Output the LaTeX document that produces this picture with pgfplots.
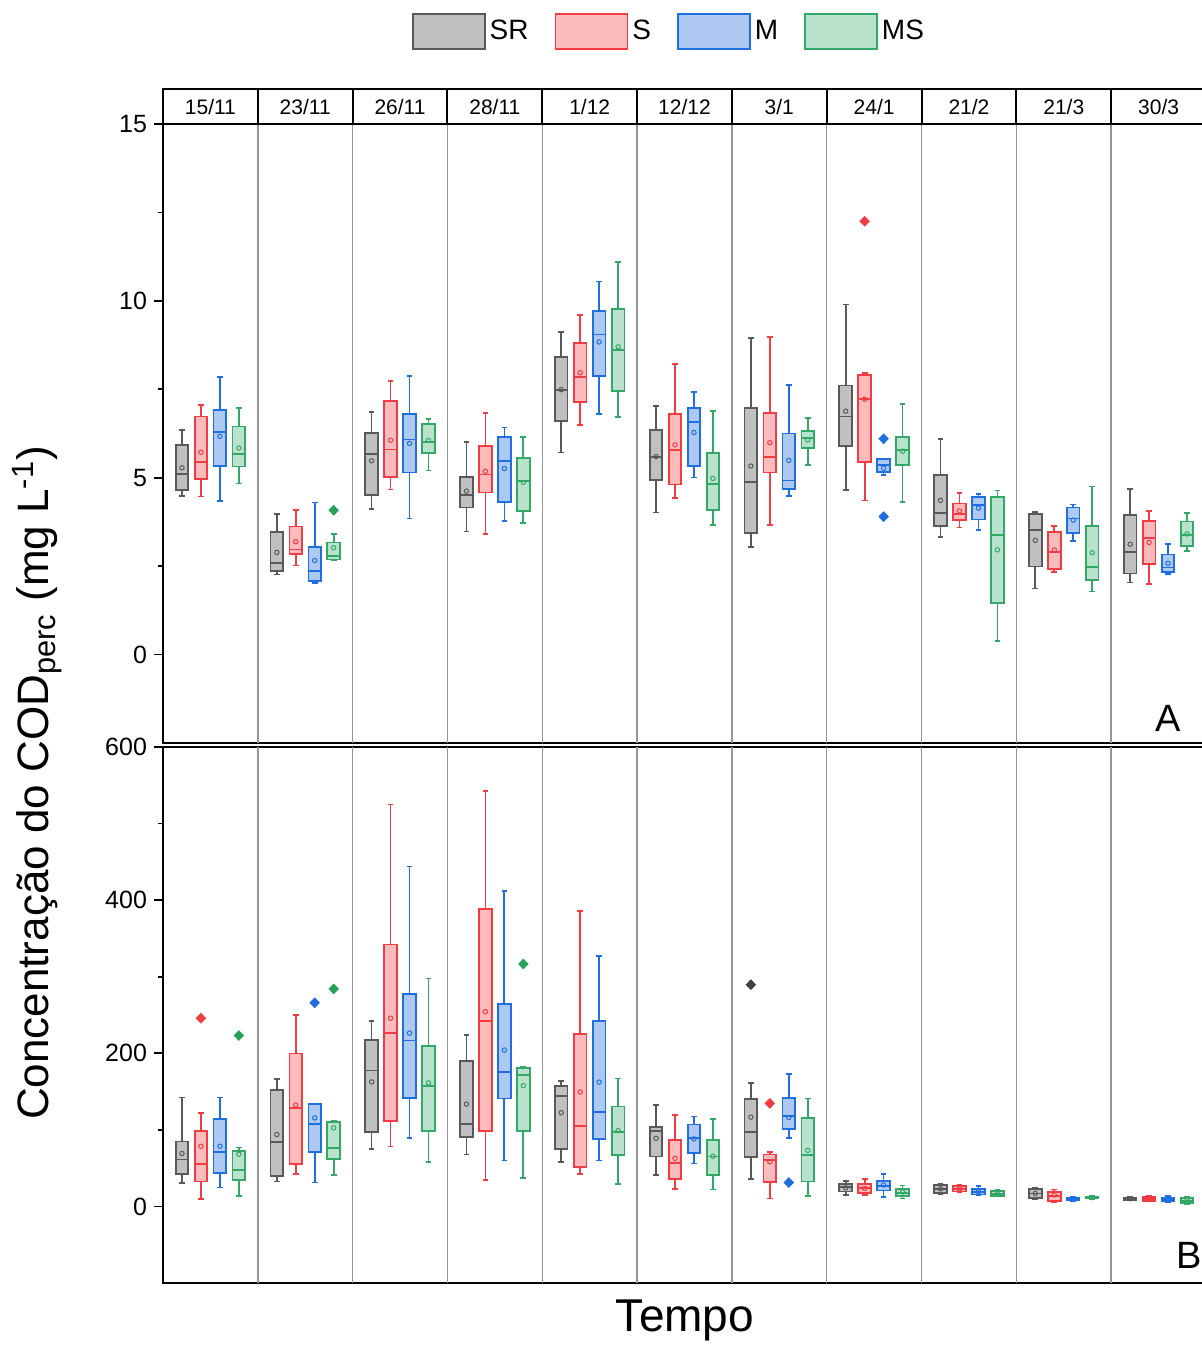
\documentclass[border=0pt]{standalone}
\usepackage{pgfplots}
\pgfplotsset{compat=1.18}
\usepackage{fontspec}
\setmainfont{Liberation Sans}

\definecolor{srd}{RGB}{89,89,89}
\definecolor{srf}{RGB}{192,192,192}
\definecolor{sd}{RGB}{240,60,66}
\definecolor{sf}{RGB}{251,187,189}
\definecolor{md}{RGB}{31,111,224}
\definecolor{mf}{RGB}{173,201,241}
\definecolor{msd}{RGB}{52,168,102}
\definecolor{msf}{RGB}{184,226,203}
\definecolor{sepc}{RGB}{150,150,150}
\definecolor{sro}{RGB}{64,64,64}
\definecolor{mso}{RGB}{40,160,90}

\pgfplotsset{
  outl/.style={only marks, mark=diamond*, mark size=2.4pt, mark options={xscale=1.3}},
  panel/.style={
    scale only axis, width=521.5pt, xmin=0, xmax=11,
    anchor=north west,
    axis line style={line width=1pt},
    xtick=\empty,
    extra x ticks={1,2,3,4,5,6,7,8,9,10},
    extra x tick labels={},
    extra x tick style={grid=major, major tick length=0pt},
    major grid style={draw=sepc, line width=0.7pt},
    tick align=outside,
    ytick pos=left,
    major tick length=4.5pt,
    minor tick length=2.5pt,
    tick style={black, line width=0.8pt},
    ticklabel style={font=\fontsize{12.5}{14}\selectfont},
    /pgf/number format/assume math mode=true,
    unbounded coords=jump,
    clip=false,
  },
}

% #1 draw colour, #2 fill colour, #3 position, #4 lower whisker, #5 lower quartile,
% #6 median, #7 upper quartile, #8 upper whisker, #9 mean
\newcommand{\bx}[9]{%
  \pgfmathsetmacro\xl{#3-0.0665}\pgfmathsetmacro\xr{#3+0.0665}%
  \pgfmathsetmacro\cl{#3-0.03}\pgfmathsetmacro\cR{#3+0.03}%
  \addplot[draw=#1, line width=0.85pt, mark=none] coordinates {(\cl,#4) (\cR,#4) (nan,nan) (#3,#4) (#3,#5) (nan,nan) (#3,#7) (#3,#8) (nan,nan) (\cl,#8) (\cR,#8)};
  \addplot[draw=#1, fill=#2, line width=0.9pt, mark=none] coordinates {(\xl,#5) (\xr,#5) (\xr,#7) (\xl,#7)} -- cycle;
  \addplot[draw=#1, line width=0.9pt, mark=none] coordinates {(\xl,#6) (\xr,#6)};
  \addplot[color=#1, only marks, mark=o, mark size=1.1pt, mark options={line width=0.5pt}] coordinates {(#3,#9)};
}

\begin{document}
\begin{tikzpicture}
% ---------------- top panel (A) ----------------
\begin{axis}[panel, at={(81.5pt,-62pt)}, height=309.5pt,
  ymin=-2.5, ymax=15, ytick={0,5,10,15}, minor ytick={2.5,7.5,12.5},
  legend style={draw=none, fill=none, at={(0.486,1.150)}, anchor=center,
    legend columns=4, font=\fontsize{14}{16}\selectfont,
    /tikz/every even column/.append style={column sep=11pt}},
  legend image code/.code={\draw[#1, line width=0.9pt] (0pt,-8.75pt) rectangle (36pt,8.75pt);},
]
\addlegendimage{draw=srd, fill=srf}\addlegendentry{SR}
\addlegendimage{draw=sd, fill=sf}\addlegendentry{S}
\addlegendimage{draw=md, fill=mf}\addlegendentry{M}
\addlegendimage{draw=msd, fill=msf}\addlegendentry{MS}
% 15/11
\bx{srd}{srf}{0.2}{4.49}{4.65}{5.11}{5.93}{6.34}{5.28}
\bx{sd}{sf}{0.4}{4.47}{4.96}{5.45}{6.73}{7.05}{5.72}
\bx{md}{mf}{0.6}{4.35}{5.34}{6.29}{6.92}{7.85}{6.17}
\bx{msd}{msf}{0.8}{4.84}{5.32}{5.66}{6.45}{6.98}{5.84}
% 23/11
\bx{srd}{srf}{1.2}{2.26}{2.36}{2.60}{3.47}{3.97}{2.89}
\bx{sd}{sf}{1.4}{2.52}{2.85}{2.97}{3.62}{4.09}{3.19}
\bx{md}{mf}{1.6}{2.03}{2.07}{2.37}{3.05}{4.30}{2.66}
\bx{msd}{msf}{1.8}{2.67}{2.69}{2.79}{3.17}{3.40}{3.02}
\addplot[outl, color=mso] coordinates {(1.8,4.08)};
% 26/11
\bx{srd}{srf}{2.2}{4.12}{4.51}{5.67}{6.26}{6.86}{5.48}
\bx{sd}{sf}{2.4}{4.67}{5.03}{5.80}{7.18}{7.73}{6.06}
\bx{md}{mf}{2.6}{3.85}{5.15}{6.08}{6.80}{7.87}{5.97}
\bx{msd}{msf}{2.8}{5.20}{5.71}{6.01}{6.51}{6.66}{6.05}
% 28/11
\bx{srd}{srf}{3.2}{3.48}{4.16}{4.51}{5.03}{6.01}{4.62}
\bx{sd}{sf}{3.4}{3.41}{4.58}{5.09}{5.90}{6.82}{5.18}
\bx{md}{mf}{3.6}{3.78}{4.31}{5.48}{6.15}{6.42}{5.26}
\bx{msd}{msf}{3.8}{3.72}{4.06}{4.91}{5.55}{6.15}{4.87}
% 1/12
\bx{srd}{srf}{4.2}{5.71}{6.61}{7.48}{8.42}{9.11}{7.49}
\bx{sd}{sf}{4.4}{6.50}{7.14}{7.85}{8.82}{9.60}{7.97}
\bx{md}{mf}{4.6}{6.80}{7.88}{9.05}{9.71}{10.55}{8.84}
\bx{msd}{msf}{4.8}{6.72}{7.45}{8.61}{9.78}{11.10}{8.70}
% 12/12
\bx{srd}{srf}{5.2}{4.02}{4.93}{5.59}{6.34}{7.03}{5.60}
\bx{sd}{sf}{5.4}{4.43}{4.81}{5.78}{6.81}{8.22}{5.93}
\bx{md}{mf}{5.6}{5.01}{5.33}{6.58}{6.97}{7.42}{6.28}
\bx{msd}{msf}{5.8}{3.67}{4.08}{4.82}{5.71}{6.88}{4.98}
% 3/1
\bx{srd}{srf}{6.2}{3.04}{3.44}{4.87}{6.97}{8.96}{5.33}
\bx{sd}{sf}{6.4}{3.67}{5.15}{5.59}{6.84}{8.98}{5.99}
\bx{md}{mf}{6.6}{4.49}{4.67}{4.92}{6.25}{7.62}{5.49}
\bx{msd}{msf}{6.8}{5.36}{5.85}{6.13}{6.31}{6.68}{6.07}
% 24/1
\bx{srd}{srf}{7.2}{4.65}{5.90}{6.73}{7.61}{9.90}{6.88}
\bx{sd}{sf}{7.4}{4.36}{5.44}{7.22}{7.90}{7.96}{7.22}
\bx{md}{mf}{7.6}{5.07}{5.16}{5.36}{5.52}{5.53}{5.27}
\bx{msd}{msf}{7.8}{4.31}{5.35}{5.79}{6.15}{7.08}{5.75}
\addplot[outl, color=sd] coordinates {(7.4,12.25)};
\addplot[outl, color=md] coordinates {(7.6,6.10) (7.6,3.90)};
% 21/2
\bx{srd}{srf}{8.2}{3.32}{3.63}{4.01}{5.08}{6.09}{4.36}
\bx{sd}{sf}{8.4}{3.59}{3.80}{3.97}{4.27}{4.57}{4.06}
\bx{md}{mf}{8.6}{3.53}{3.82}{4.24}{4.45}{4.53}{4.14}
\bx{msd}{msf}{8.8}{0.38}{1.46}{3.39}{4.46}{4.64}{2.96}
% 21/3
\bx{srd}{srf}{9.2}{1.87}{2.49}{3.52}{3.97}{4.03}{3.23}
\bx{sd}{sf}{9.4}{2.33}{2.43}{2.91}{3.47}{3.64}{2.96}
\bx{md}{mf}{9.6}{3.22}{3.43}{3.85}{4.16}{4.24}{3.80}
\bx{msd}{msf}{9.8}{1.78}{2.10}{2.48}{3.63}{4.75}{2.88}
% 30/3
\bx{srd}{srf}{10.2}{2.04}{2.29}{2.89}{3.94}{4.68}{3.12}
\bx{sd}{sf}{10.4}{1.99}{2.55}{3.29}{3.77}{4.06}{3.17}
\bx{md}{mf}{10.6}{2.27}{2.33}{2.46}{2.83}{3.12}{2.58}
\bx{msd}{msf}{10.8}{2.92}{3.07}{3.37}{3.76}{4.00}{3.41}
\end{axis}

% ---------------- bottom panel (B) ----------------
\begin{axis}[panel, at={(81.5pt,-373.5pt)}, height=268pt,
  ymin=-100, ymax=600, ytick={0,200,400,600}, minor ytick={100,300,500},
]
% 15/11
\bx{srd}{srf}{0.2}{30.3}{42.0}{61.3}{84.8}{142.2}{69.1}
\bx{sd}{sf}{0.4}{9.9}{32.5}{55.0}{98.4}{121.9}{78.6}
\bx{md}{mf}{0.6}{24.8}{43.3}{71.4}{113.8}{142.2}{78.6}
\bx{msd}{msf}{0.8}{13.6}{34.4}{47.5}{71.9}{76.8}{68.2}
\addplot[outl, color=sd] coordinates {(0.4,245.8)};
\addplot[outl, color=mso] coordinates {(0.8,223.2)};
% 23/11
\bx{srd}{srf}{1.2}{32.5}{40.2}{84.0}{151.7}{166.2}{93.9}
\bx{sd}{sf}{1.4}{42.4}{55.5}{128.3}{199.7}{249.8}{132.4}
\bx{md}{mf}{1.6}{31.2}{71.4}{107.5}{133.6}{134.1}{115.6}
\bx{msd}{msf}{1.8}{40.6}{62.3}{75.8}{110.1}{112.4}{102.5}
\addplot[outl, color=md] coordinates {(1.6,266.0)};
\addplot[outl, color=mso] coordinates {(1.8,284.1)};
% 26/11
\bx{srd}{srf}{2.2}{75.0}{97.1}{177.5}{217.3}{242.6}{162.6}
\bx{sd}{sf}{2.4}{78.2}{112.0}{226.8}{342.0}{524.9}{245.8}
\bx{md}{mf}{2.6}{89.8}{141.7}{216.8}{277.8}{444.0}{226.3}
\bx{msd}{msf}{2.8}{57.8}{98.5}{157.3}{209.7}{297.8}{161.4}
% 28/11
\bx{srd}{srf}{3.2}{67.7}{90.8}{107.5}{189.8}{224.1}{133.7}
\bx{sd}{sf}{3.4}{34.8}{98.5}{242.1}{388.5}{542.9}{254.3}
\bx{md}{mf}{3.6}{60.1}{140.9}{175.3}{264.2}{411.9}{204.2}
\bx{msd}{msf}{3.8}{37.1}{98.9}{172.1}{180.7}{182.0}{157.7}
\addplot[outl, color=mso] coordinates {(3.8,316.6)};
% 1/12
\bx{srd}{srf}{4.2}{57.8}{74.5}{144.1}{157.7}{163.6}{122.4}
\bx{sd}{sf}{4.4}{42.4}{52.0}{105.3}{225.4}{385.7}{149.5}
\bx{md}{mf}{4.6}{60.1}{88.1}{123.8}{242.6}{327.4}{162.3}
\bx{msd}{msf}{4.8}{28.9}{66.8}{97.6}{130.5}{167.1}{98.9}
% 12/12
\bx{srd}{srf}{5.2}{41.5}{65.1}{98.0}{103.5}{132.8}{89.0}
\bx{sd}{sf}{5.4}{23.0}{35.3}{57.0}{86.8}{119.8}{62.8}
\bx{md}{mf}{5.6}{56.0}{69.6}{89.0}{107.1}{117.5}{88.1}
\bx{msd}{msf}{5.8}{22.1}{41.1}{65.1}{86.8}{113.9}{65.5}
% 3/1
\bx{srd}{srf}{6.2}{36.2}{64.6}{97.6}{140.5}{161.4}{116.6}
\bx{sd}{sf}{6.4}{10.4}{31.6}{61.0}{67.8}{71.4}{58.3}
\bx{md}{mf}{6.6}{89.0}{101.2}{117.8}{141.8}{172.9}{116.1}
\bx{msd}{msf}{6.8}{14.0}{32.5}{66.9}{115.2}{140.9}{73.2}
\addplot[outl, color=sro] coordinates {(6.2,289.6)};
\addplot[outl, color=sd] coordinates {(6.4,134.6)};
\addplot[outl, color=md] coordinates {(6.6,31.2)};
% 24/1
\bx{srd}{srf}{7.2}{14.5}{19.4}{25.7}{29.3}{33.4}{24.3}
\bx{sd}{sf}{7.4}{14.9}{18.0}{23.9}{28.9}{35.7}{23.4}
\bx{md}{mf}{7.6}{12.6}{20.8}{26.2}{33.0}{42.0}{28.0}
\bx{msd}{msf}{7.8}{10.4}{14.0}{18.0}{22.5}{27.5}{18.9}
% 21/2
\bx{srd}{srf}{8.2}{16}{18}{23}{28}{30}{23}
\bx{sd}{sf}{8.4}{19}{19.5}{23}{26.5}{28.5}{23}
\bx{md}{mf}{8.6}{15}{15.5}{19}{23}{26.5}{19}
\bx{msd}{msf}{8.8}{13.5}{14}{16.5}{20}{21}{16.5}
% 21/3
\bx{srd}{srf}{9.2}{10}{11}{17}{22.5}{24}{17}
\bx{sd}{sf}{9.4}{6}{7}{14}{19}{22}{15}
\bx{md}{mf}{9.6}{7.5}{8}{9.5}{11}{12}{9.5}
\bx{msd}{msf}{9.8}{9.8}{10.3}{11.5}{12.8}{13.3}{11.5}
% 30/3
\bx{srd}{srf}{10.2}{8}{8.5}{10}{11.5}{12}{10}
\bx{sd}{sf}{10.4}{6.5}{7}{10}{12}{14}{10}
\bx{md}{mf}{10.6}{6}{7}{9}{11.5}{13.5}{9}
\bx{msd}{msf}{10.8}{3.5}{4.5}{7.5}{10.5}{12}{7.5}
\end{axis}

% header strip with dates
\draw[line width=1pt] (81.5pt,-62pt) rectangle (603pt,-44.5pt);
\foreach \i in {1,...,10} \draw[line width=1pt] ({81.5pt+\i*47.409pt},-62pt) -- ++(0,17.5pt);
\foreach \l [count=\i from 0] in {15/11,23/11,26/11,28/11,1/12,12/12,3/1,24/1,21/2,21/3,30/3}
  \node[font=\fontsize{10.5}{12}\selectfont] at ({81.5pt+(\i+0.5)*47.409pt},-53.25pt) {\l};

% panel letters
\node[font=\fontsize{19}{22}\selectfont] at (584pt,-359pt) {A};
\node[font=\fontsize{19}{22}\selectfont] at (594.5pt,-627.5pt) {B};

% axis titles
\node[rotate=90, font=\fontsize{22}{26}\selectfont] at (18.5pt,-391.5pt) {Concentração do COD\textsubscript{perc} (mg L\textsuperscript{-1})};
\node[font=\fontsize{23}{27}\selectfont] at (342.5pt,-660pt) {Tempo};

\pgfresetboundingbox
\useasboundingbox (0,0) rectangle (600.5pt,-672.5pt);
\end{tikzpicture}
\end{document}
